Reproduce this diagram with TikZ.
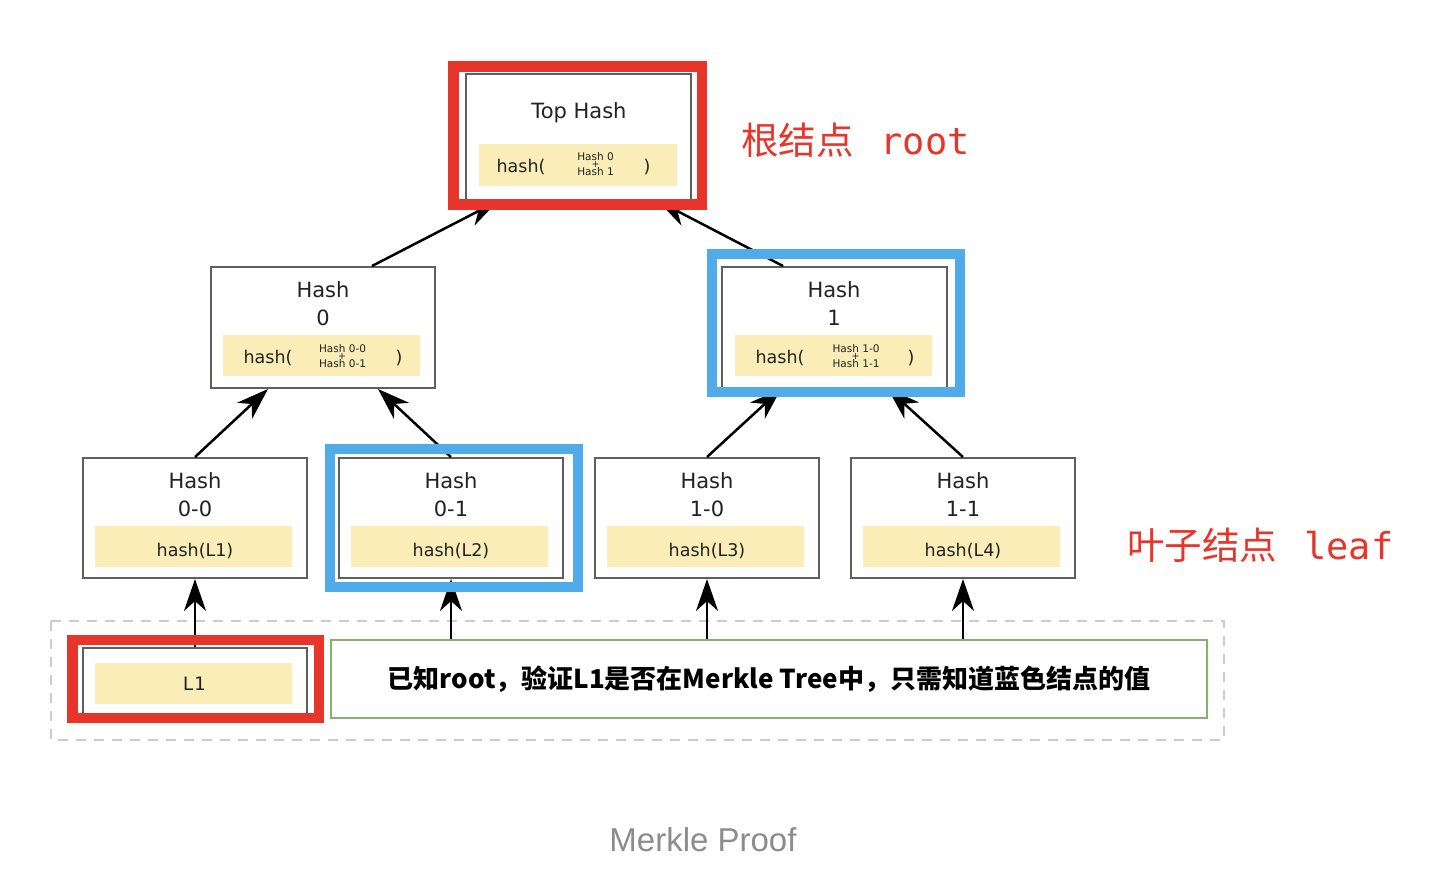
\documentclass[tikz,border=0pt]{standalone}
\usepackage{fontspec}
\setmainfont{DejaVu Sans}
\newfontfamily\dvm{DejaVu Sans Mono}
\newfontfamily\cjk{Noto Sans CJK SC}
\newfontfamily\capfont{Liberation Sans}
\usetikzlibrary{arrows.meta,calc}
\definecolor{boxgray}{HTML}{5F5F5F}
\definecolor{bandyel}{HTML}{FAEDB8}
\definecolor{frred}{HTML}{E8352B}
\definecolor{frblue}{HTML}{4FACE8}
\definecolor{frgreen}{HTML}{82B366}
\definecolor{txt}{HTML}{222222}
\definecolor{capgray}{HTML}{8C8C8C}
\tikzset{
  hbox/.style={draw=boxgray,line width=2pt,fill=white,minimum width=224pt,minimum height=121pt,inner sep=0pt},
  band/.style={fill=bandyel,minimum width=197pt,minimum height=41pt,inner sep=0pt},
  ttl/.style={text=txt,font=\fontsize{21}{28}\selectfont,align=center,inner sep=0pt},
  htxt/.style={text=txt,font=\fontsize{17.5}{20}\selectfont,inner sep=0pt},
  sml/.style={text=txt,font=\fontsize{10.5}{15}\selectfont,align=center,inner sep=0pt},
  plus/.style={text=txt,font=\fontsize{9.5}{10}\selectfont,inner sep=0pt},
  arr/.style={line width=2.5pt,-{Stealth[length=32pt,width=22pt,inset=10pt]}},
  redfr/.style={draw=frred,line width=10.5pt},
  bluefr/.style={draw=frblue,line width=10pt},
  lbl/.style={text=frred,inner sep=0pt,anchor=west}
}
\begin{document}
\begin{tikzpicture}[x=1pt,y=-1pt]
\useasboundingbox[fill=white] (0,0) rectangle (1442,876);

% dashed group
\draw[draw=black!20,line width=2pt,dash pattern=on 10pt off 8pt] (51,621) rectangle (1224,740);

% top hash
\node[hbox,minimum width=225pt,minimum height=126pt] (top) at (578.5,137) {};
\node[band,minimum width=198pt,minimum height=42pt] (topb) at (578,165) {};
\node[ttl] (topt) at (579,113) {Top Hash};
\node[htxt] (toph) at (521,167) {hash(};
\node[sml] (tops) at (595.5,164.5) {Hash 0\\Hash 1};
\node[plus] (topp) at (595.5,165) {+};
\node[htxt] (topc) at (647,167) {)};

% hash 0
\node[hbox] (h0) at (323,327.5) {};
\node[band] (h0b) at (321.5,355.5) {};
\node[ttl] (h0t) at (323,304) {Hash\\0};
\node[htxt] (h0h) at (268,358) {hash(};
\node[sml] (h0s) at (342.5,356) {Hash 0-0\\Hash 0-1};
\node[plus] (h0p) at (342,356.5) {+};
\node[htxt] (h0c) at (399,358) {)};

% hash 1
\node[hbox,minimum width=225pt] (h1) at (834.5,327.5) {};
\node[band] (h1b) at (833.5,355.5) {};
\node[ttl] (h1t) at (834,304) {Hash\\1};
\node[htxt] (h1h) at (780,358) {hash(};
\node[sml] (h1s) at (856,356) {Hash 1-0\\Hash 1-1};
\node[plus] (h1p) at (855.5,356.5) {+};
\node[htxt] (h1c) at (911,358) {)};

% leaves
\node[hbox,minimum height=120pt] (l00) at (195,518) {};
\node[band] (l00b) at (193.5,546.5) {};
\node[ttl] (l00t) at (195,495) {Hash\\0-0};
\node[htxt] (l00h) at (195,551) {hash(L1)};

\node[hbox,minimum height=120pt] (l01) at (451,518) {};
\node[band] (l01b) at (449.5,546.5) {};
\node[ttl] (l01t) at (451,495) {Hash\\0-1};
\node[htxt] (l01h) at (451,551) {hash(L2)};

\node[hbox,minimum height=120pt] (l10) at (707,518) {};
\node[band] (l10b) at (705.5,546.5) {};
\node[ttl] (l10t) at (707,495) {Hash\\1-0};
\node[htxt] (l10h) at (707,551) {hash(L3)};

\node[hbox,minimum height=120pt] (l11) at (963,518) {};
\node[band] (l11b) at (961.5,546.5) {};
\node[ttl] (l11t) at (963,495) {Hash\\1-1};
\node[htxt] (l11h) at (963,551) {hash(L4)};

% L1 data block
\node[hbox,minimum height=68pt] (L1) at (195,682) {};
\node[band] (L1b) at (193.5,683.5) {};
\node[text=txt,inner sep=0pt,font=\dvm\fontsize{18.5}{20}\selectfont] (L1t) at (194,684) {L1};

% green note
\node[draw=frgreen,line width=2.5pt,fill=white,minimum width=876pt,minimum height=78pt,inner sep=0pt,
      font=\cjk\bfseries\fontsize{26}{30}\selectfont,text=black] (note) at (769,679)
      {已知root，验证L1是否在Merkle Tree中，只需知道蓝色结点的值};

% arrows
\draw[arr] (l00.north) -- ($(h0.south)+(-55,0)$);
\draw[arr] (l01.north) -- ($(h0.south)+(55,0)$);
\draw[arr] (l10.north) -- ($(h1.south)+(-53.5,0)$);
\draw[arr] (l11.north) -- ($(h1.south)+(53.5,0)$);
\draw[arr] ($(h0.north)+(49,0)$) -- ($(top.south)+(-80.5,0)$);
\draw[arr] ($(h1.north)+(-51.5,0)$) -- ($(top.south)+(79.5,0)$);
\draw[arr] (L1.north) -- (l00.south);
\draw[arr] (note.north -| l01.south) -- (l01.south);
\draw[arr] (note.north -| l10.south) -- (l10.south);
\draw[arr] (note.north -| l11.south) -- (l11.south);

% highlight frames
\draw[redfr] (453.5,66.5) rectangle (702,204.5);
\draw[redfr] (72.5,640) rectangle (319,718);
\draw[bluefr] (712,254) rectangle (960,391.5);
\draw[bluefr] (330,449) rectangle (578,587);

% labels
\node[lbl] (rootlbl) at (741,140) {{\cjk\fontsize{37.5}{40}\selectfont 根结点}\hspace{27pt}{\dvm\fontsize{37}{40}\selectfont root}};
\node[lbl] (leaflbl) at (1127,545) {{\cjk\fontsize{37.5}{40}\selectfont 叶子结点}\hspace{27pt}{\dvm\fontsize{37}{40}\selectfont leaf}};

% caption
\node[text=capgray,inner sep=0pt,font=\capfont\fontsize{33}{36}\selectfont] (cap) at (703,840) {Merkle Proof};
\end{tikzpicture}
\end{document}
